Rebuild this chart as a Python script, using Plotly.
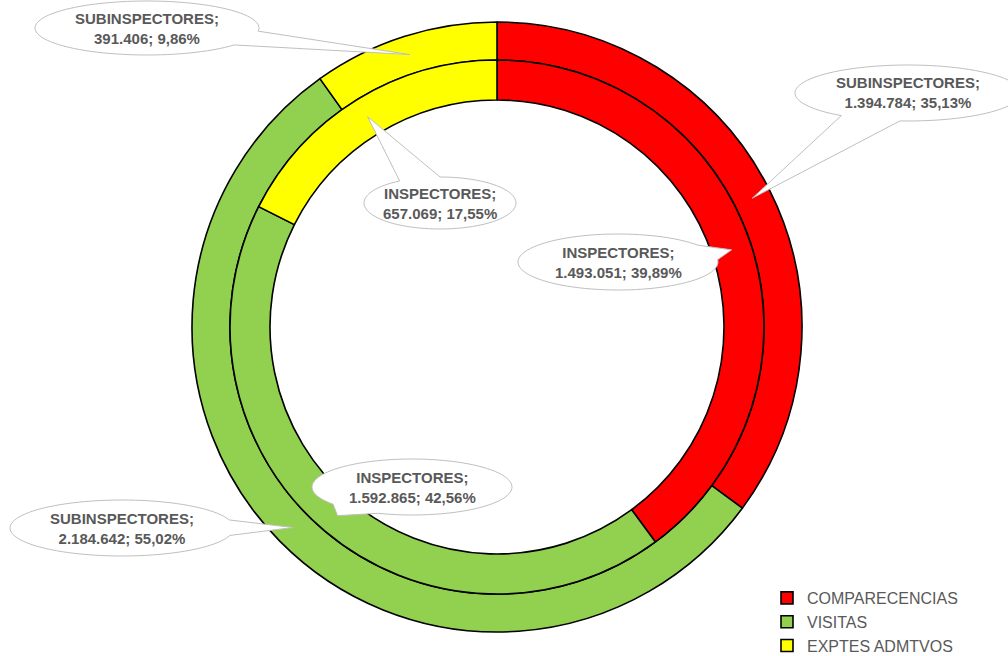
import numpy as np
import plotly.graph_objects as go

# ---------------- data ----------------
labels = ["COMPARECENCIAS", "VISITAS", "EXPTES ADMTVOS"]
colors = ["#FF0000", "#92D050", "#FFFF00"]
sub_name = "SUBINSPECTORES"
insp_name = "INSPECTORES"
sub_values = [1394784, 2184642, 391406]      # outer ring
insp_values = [1493051, 1592865, 657069]     # inner ring

# ---------------- layout geometry (pixels) ----------------
W, H = 1008, 656
cx, cy = 497, 327
R_out, R_mid, R_in = 305, 267, 227

# callout bubbles: (center x, center y, rx, ry) in pixels
sub_bubbles = [(908, 93, 113, 28), (122, 528, 112, 28), (147, 28, 112, 27)]
insp_bubbles = [(618, 262, 100, 28), (412, 487, 100, 28), (440, 203, 76, 26)]

TEXT_COLOR = "#595959"
FONT = "Liberation Sans, Arial, sans-serif"


def px(x):
    return x / W


def py(y):
    return 1 - y / H


def fmt_int(v):
    return f"{v:,}".replace(",", ".")


def fmt_pct(p):
    return f"{p:.2f}".replace(".", ",") + "%"


fig = go.Figure()

fig.add_trace(go.Pie(
    labels=labels, values=sub_values, name=sub_name,
    marker=dict(colors=colors, line=dict(color="black", width=1.6)),
    hole=R_mid / R_out, sort=False, direction="clockwise", rotation=0,
    textinfo="none", hoverinfo="label+value+percent",
    domain=dict(x=[px(cx - R_out), px(cx + R_out)], y=[py(cy + R_out), py(cy - R_out)]),
))
fig.add_trace(go.Pie(
    labels=labels, values=insp_values, name=insp_name,
    marker=dict(colors=colors, line=dict(color="black", width=1.6)),
    hole=R_in / R_mid, sort=False, direction="clockwise", rotation=0,
    textinfo="none", hoverinfo="label+value+percent",
    domain=dict(x=[px(cx - R_mid), px(cx + R_mid)], y=[py(cy + R_mid), py(cy - R_mid)]),
    showlegend=False,
))


def bubble_path(bx, by, rx, ry, tx, ty, dt=0.28):
    # parametric angle toward the tip
    t0 = np.arctan2((ty - by) / ry, (tx - bx) / rx)
    ts = np.linspace(t0 + dt, t0 + 2 * np.pi - dt, 90)
    pts = [(tx, ty)] + [(bx + rx * np.cos(t), by + ry * np.sin(t)) for t in ts]
    d = "M " + " L ".join(f"{px(x):.5f},{py(y):.5f}" for x, y in pts) + " Z"
    return d


shapes = []
annotations = []


def add_callouts(values, ring_r0, ring_r1, bubbles, name):
    total = sum(values)
    cum = 0
    rmid = (ring_r0 + ring_r1) / 2
    for v, (bx, by, rx, ry) in zip(values, bubbles):
        frac_mid = (cum + v / 2) / total
        cum += v
        ang = 2 * np.pi * frac_mid
        tx = cx + rmid * np.sin(ang)
        ty = cy - rmid * np.cos(ang)
        shapes.append(dict(type="path", xref="paper", yref="paper",
                           path=bubble_path(bx, by, rx, ry, tx, ty),
                           fillcolor="white", line=dict(color="#BFBFBF", width=1)))
        annotations.append(dict(
            x=px(bx), y=py(by), xref="paper", yref="paper", showarrow=False,
            xanchor="center", yanchor="middle",
            text=f"<b>{name};<br>{fmt_int(v)}; {fmt_pct(100 * v / total)}</b>",
            font=dict(family=FONT, size=15, color=TEXT_COLOR)))


add_callouts(sub_values, R_mid, R_out, sub_bubbles, sub_name)
add_callouts(insp_values, R_in, R_mid, insp_bubbles, insp_name)

fig.update_layout(
    width=W, height=H, autosize=False,
    margin=dict(l=0, r=0, t=0, b=0, autoexpand=False),
    paper_bgcolor="white", plot_bgcolor="white",
    shapes=shapes, annotations=annotations,
    showlegend=True,
    legend=dict(x=px(767), y=py(581), xanchor="left", yanchor="top",
                font=dict(family=FONT, size=16, color=TEXT_COLOR),
                bgcolor="rgba(0,0,0,0)", traceorder="normal"),
)

fig.write_html("out.html")
